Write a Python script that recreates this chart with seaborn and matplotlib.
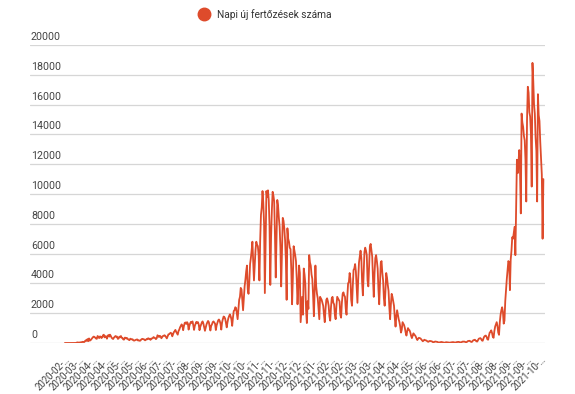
import matplotlib
matplotlib.use("Agg")
import matplotlib.pyplot as plt
import matplotlib.transforms as mtransforms
from matplotlib.lines import Line2D
import pandas as pd
import seaborn as sns

# ── Data ──────────────────────────────────────────────────────────────────────
# daily new cases, first chunk starts Wed 2020-02-26, then Mon–Sun weeks
START_DATE = "2020-02-26"

feb_may_2020 = [
    1, 0, 1, 1, 0,
    0, 0, 1, 1, 2, 2, 4,
    2, 3, 4, 19, 41, 25, 34,
    32, 44, 55, 60, 83, 65, 66,
    143, 186, 144, 263, 123, 308, 160,
    190, 250, 320, 390, 430, 410, 360,
    300, 280, 470, 420, 330, 440, 430,
    330, 390, 520, 560, 380, 460, 440,
    290, 480, 540, 430, 560, 470, 360,
    300, 270, 360, 410, 470, 420, 430,
    280, 300, 430, 380, 470, 350, 340,
    240, 230, 360, 350, 300, 330, 260,
    220, 190, 290, 270, 240, 250, 180,
    160, 180, 210, 230, 240, 170, 180,
]
jun_aug_2020 = [
    150, 160, 230, 270, 280, 250, 240,
    180, 210, 270, 250, 320, 290, 280,
    210, 300, 300, 340, 400, 350, 330,
    260, 320, 520, 470, 400, 480, 450,
    320, 400, 470, 490, 520, 480, 400,
    310, 440, 580, 590, 650, 690, 630,
    450, 580, 730, 790, 880, 750, 660,
    560, 800, 900, 1050, 1150, 1250, 1160,
    860, 1150, 1350, 1380, 1280, 1400, 1320,
    900, 1150, 1320, 1420, 1350, 1450, 1200,
    880, 1160, 1290, 1420, 1330, 1400, 1250,
    860, 1080, 1220, 1380, 1450, 1300, 1060,
    820, 1050, 1250, 1380, 1480, 1400, 1120,
]
sep_nov_2020 = [
    840, 1150, 1250, 1400, 1450, 1380, 1300,
    870, 1180, 1350, 1520, 1580, 1480, 1280,
    900, 1380, 1600, 1780, 1740, 1630, 1350,
    1050, 1400, 1650, 1800, 1920, 1800, 1600,
    1150, 1700, 2150, 2200, 2400, 2350, 2000,
    1600, 2250, 2900, 3100, 3700, 3600, 2900,
    2200, 3050, 3800, 4250, 4800, 5200, 3600,
    3300, 4100, 5300, 5700, 6200, 6800, 5500,
    4200, 5200, 6250, 6800, 6600, 6500, 5900,
    4200, 6900, 8600, 9100, 10200, 9400, 8000,
    3350, 6800, 10200, 9800, 10250, 9600, 7900,
    3900, 7100, 8900, 10150, 9900, 9500, 7200,
    4400, 6900, 9600, 9200, 8400, 7800, 6400,
]
dec_feb_2021 = [
    3800, 6100, 8400, 8200, 7700, 6900, 5600,
    2900, 7700, 7000, 6800, 6400, 6300, 4900,
    2600, 4400, 6500, 6200, 5900, 5500, 4300,
    2600, 3800, 5200, 4700, 1400, 2300, 3100,
    1900, 5000, 4600, 4000, 2200, 1340, 2800,
    2300, 5900, 5400, 5200, 4600, 4300, 3200,
    1800, 3500, 5200, 3800, 3300, 3000, 2300,
    1600, 3100, 3000, 2900, 2700, 2500, 1900,
    1400, 2300, 2900, 3000, 2800, 2500, 1800,
    1500, 2400, 3000, 3100, 2700, 2600, 1900,
    1600, 2500, 3100, 3000, 2900, 2800, 1900,
    1700, 2700, 3300, 3400, 3200, 3100, 2300,
    1900, 3100, 4000, 4100, 4700, 4300, 2900,
]
mar_may_2021 = [
    2500, 3800, 4900, 5000, 5300, 4800, 3700,
    2700, 4300, 5400, 5800, 6200, 5700, 4100,
    3200, 4600, 6100, 6400, 6200, 5900, 4200,
    3800, 5100, 6500, 6650, 6200, 5800, 4300,
    3100, 4700, 5700, 5900, 5500, 5000, 3600,
    2600, 4000, 5400, 5500, 4700, 4200, 3000,
    2500, 3500, 4700, 4400, 3900, 3500, 2400,
    1600, 2600, 3300, 3100, 2800, 2500, 1700,
    1100, 1800, 2200, 1900, 1600, 1400, 1100,
    700, 900, 1400, 1300, 1200, 1000, 700,
    500, 800, 1000, 900, 850, 700, 480,
    330, 500, 650, 560, 520, 430, 300,
    200, 290, 350, 330, 310, 250, 180,
]
jun_aug_2021 = [
    120, 160, 220, 190, 180, 150, 110,
    80, 110, 140, 130, 120, 100, 60,
    50, 80, 100, 90, 85, 70, 40,
    30, 50, 60, 70, 55, 45, 35,
    20, 35, 55, 50, 45, 40, 30,
    20, 40, 50, 55, 60, 50, 35,
    25, 50, 65, 70, 75, 60, 45,
    35, 60, 95, 90, 100, 80, 55,
    45, 90, 130, 140, 150, 120, 80,
    70, 130, 190, 200, 220, 170, 110,
    100, 200, 290, 310, 330, 270, 170,
    150, 310, 430, 480, 500, 410, 250,
    220, 480, 700, 750, 850, 680, 420,
]
sep_nov_2021 = [
    350, 800, 1100, 1250, 1400, 1150, 700,
    550, 1400, 1900, 2200, 2400, 2100, 1300,
    1500, 2800, 3600, 4300, 4900, 5500, 5400,
    3550, 5600, 6200, 7100, 7000, 7400, 7800,
    5900, 9000, 12300, 11400, 12100, 12950, 11500,
    8700, 15400, 14800, 14500, 13900, 13600, 12300,
    9500, 15000, 17200, 16800, 15500, 15200, 14100,
    10500, 18800, 17600, 16000, 15400, 13800, 12900,
    9500, 16700, 15300, 14900, 13500, 12400, 11300,
    7000, 11000,
]

tick_labels = [
    "2020-02-…", "2020-03-…", "2020-04-…", "2020-04-…", "2020-05-…",
    "2020-05-…", "2020-06-…", "2020-07-…", "2020-07-…", "2020-08-…",
    "2020-09-…", "2020-09-…", "2020-10-…", "2020-10-…", "2020-11-…",
    "2020-11-…", "2020-12-…", "2020-12-…", "2021-01-…", "2021-02-…",
    "2021-02-…", "2021-03-…", "2021-03-…", "2021-04-…", "2021-04-…",
    "2021-05-…", "2021-06-…", "2021-06-…", "2021-07-…", "2021-07-…",
    "2021-08-…", "2021-08-…", "2021-09-…", "2021-09-…", "2021-10-…",
]
y_ticks = [0, 2000, 4000, 6000, 8000, 10000, 12000, 14000, 16000, 18000, 20000]
legend_label = "Napi új fertőzések száma"

LINE_COLOR = "#de4b2b"
TEXT_COLOR = "#444444"

cases = (feb_may_2020 + jun_aug_2020 + sep_nov_2020 + dec_feb_2021
         + mar_may_2021 + jun_aug_2021 + sep_nov_2021)
df = pd.DataFrame({
    "date": pd.date_range(START_DATE, periods=len(cases), freq="D"),
    "cases": cases,
})

# ── Plot ──────────────────────────────────────────────────────────────────────
sns.set_theme(style="white")
plt.rcParams["font.family"] = ["Roboto", "DejaVu Sans"]

fig = plt.figure(figsize=(5.75, 3.94), dpi=100)
ax = fig.add_axes([0.052, 0.1294, 0.8957, 0.7563])

sns.lineplot(data=df, x="date", y="cases", ax=ax, color=LINE_COLOR,
             linewidth=1.3, legend=False)

start = df["date"].iloc[0]
ax.set_xlim(start - pd.Timedelta(days=45), start + pd.Timedelta(days=617))
ax.set_ylim(0, 20000)

# y grid with labels sitting above each line, left aligned
ax.set_yticks(y_ticks)
ax.yaxis.grid(True, color="#d6d6d6", linewidth=0.9)
ax.tick_params(axis="y", left=False, labelleft=False)
lift = mtransforms.ScaledTranslation(1 / 100, 3 / 100, fig.dpi_scale_trans)
trans = mtransforms.blended_transform_factory(ax.transAxes, ax.transData) + lift
for v in y_ticks:
    ax.text(0, v, str(v), transform=trans, ha="left", va="bottom",
            fontsize=7.7, color=TEXT_COLOR)

# category-like date labels every 18 days
tick_pos = df["date"].iloc[::18].tolist()
ax.set_xticks(tick_pos)
ax.set_xticklabels(tick_labels, rotation=45, ha="right",
                   rotation_mode="anchor", fontsize=6.9, color=TEXT_COLOR)
ax.tick_params(axis="x", bottom=False, pad=2)
ax.set_xlabel("")
ax.set_ylabel("")
sns.despine(ax=ax, left=True, bottom=True, top=True, right=True)

handle = Line2D([], [], marker="o", linestyle="", color=LINE_COLOR,
                markersize=9)
fig.legend([handle], [legend_label], loc="center",
           bbox_to_anchor=(0.457, 0.963), frameon=False, fontsize=7.3,
           handletextpad=0.3, labelcolor="#333333")

fig.savefig("out.png", dpi=100)
plt.close(fig)
